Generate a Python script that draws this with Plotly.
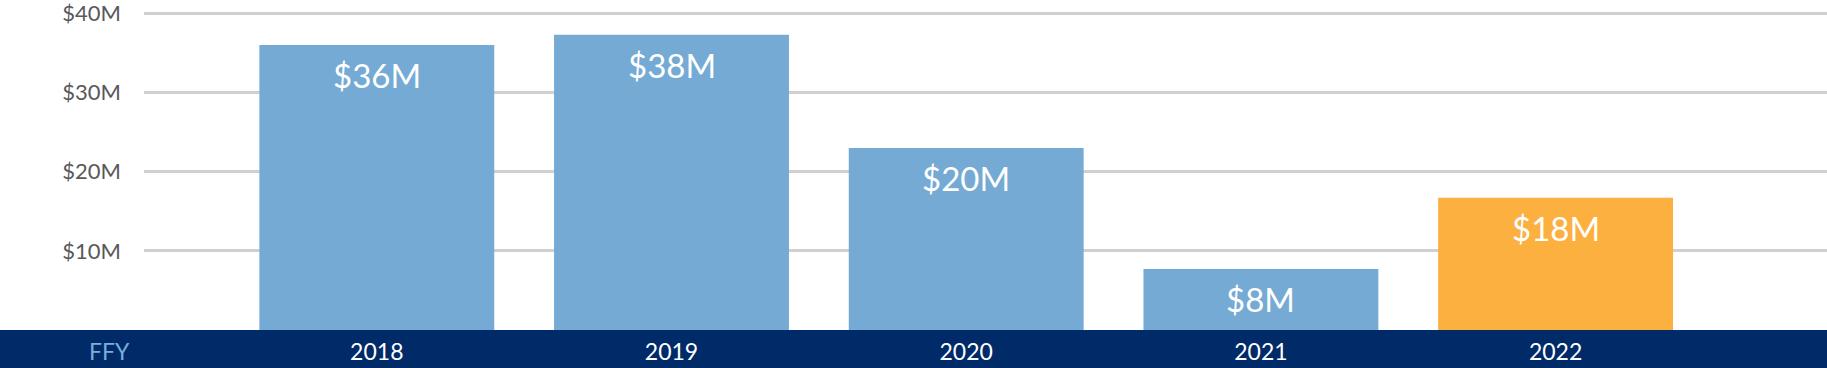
import plotly.graph_objects as go

# Data
years = ["2018", "2019", "2020", "2021", "2022"]
values_musd = [36.0, 37.3, 23.0, 7.7, 16.7]      # bar heights ($M) as drawn
labels = ["$36M", "$38M", "$20M", "$8M", "$18M"]  # printed labels
colors = ["#74AAD4", "#74AAD4", "#74AAD4", "#74AAD4", "#FBB040"]
tick_vals = [10, 20, 30, 40]
tick_text = ["$10M", "$20M", "$30M", "$40M"]

FONT = "Lato"
W, H = 1827, 368
ML, MB = 144, 38
plot_w = W - ML
plot_h = H - MB

fig = go.Figure()
fig.add_trace(go.Bar(
    x=years, y=values_musd, width=0.797,
    marker=dict(color=colors, line=dict(width=0)),
    hoverinfo="skip",
))

for i, (v, lab) in enumerate(zip(values_musd, labels)):
    fig.add_annotation(x=i, y=v, text=lab, showarrow=False,
                       xanchor="center", yanchor="middle", yshift=-30,
                       font=dict(family=FONT, size=33, color="white"))

# navy band under the axis
fig.add_shape(type="rect", xref="paper", yref="paper",
              x0=-ML / plot_w, x1=1, y0=-MB / plot_h, y1=0,
              fillcolor="#002A68", line=dict(width=0), layer="below")

fig.add_annotation(xref="paper", yref="paper", x=(109 - ML) / plot_w,
                   y=-21 / plot_h, text="FFY", showarrow=False,
                   xanchor="center", yanchor="middle",
                   font=dict(family=FONT, size=23, color="#7AAEDB"))

fig.update_layout(
    width=W, height=H,
    margin=dict(l=ML, r=0, t=0, b=MB, pad=0),
    plot_bgcolor="white", paper_bgcolor="white",
    showlegend=False,
    xaxis=dict(type="category", range=[-0.79, 4.921], showgrid=False,
               zeroline=False, showline=False, ticks="",
               tickfont=dict(family=FONT, size=23, color="white"),
               ticklabelstandoff=6, ticklabeloverflow="allow",
               fixedrange=True),
    yaxis=dict(range=[0, 41.69], tickvals=tick_vals, ticktext=tick_text,
               showgrid=True, gridcolor="#D0D0D0", gridwidth=3,
               zeroline=False, showline=False, ticks="",
               tickfont=dict(family=FONT, size=22, color="#58595B"),
               ticklabelstandoff=22, ticklabeloverflow="allow",
               fixedrange=True),
)

fig.write_html(
    "out.html",
    config={"displayModeBar": False},
    post_script="document.body.style.margin='0';document.body.style.overflow='hidden';",
)
